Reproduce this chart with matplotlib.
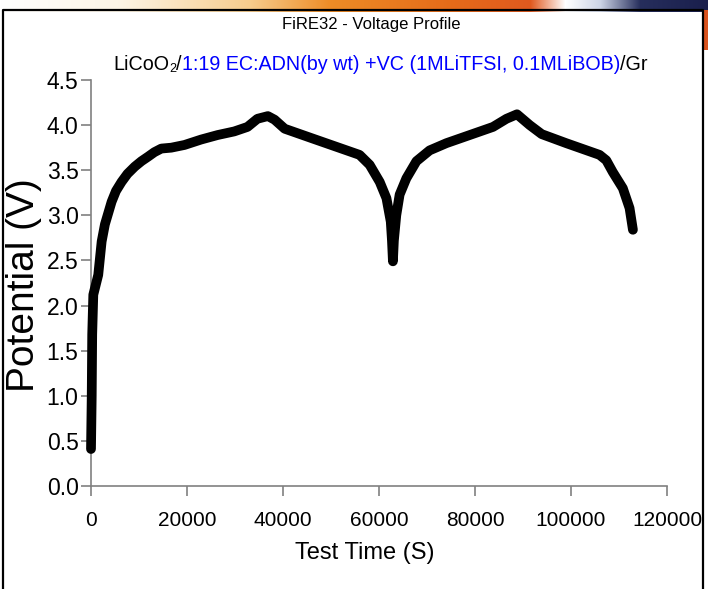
import numpy as np
import matplotlib
matplotlib.use("Agg")
import matplotlib.pyplot as plt
from matplotlib.lines import Line2D
from matplotlib.patches import Rectangle
from matplotlib import font_manager

# Voltage profile (test time in s, potential in V)
test_time = [0, 150, 250, 480, 1510, 2220, 2900, 4290, 5200, 6360, 7600, 9120,
             10500, 11880, 13200, 14650, 16730, 19480, 22940, 26380, 29840,
             32600, 34670, 36850, 38250, 40350, 46250, 51100, 55950, 58050,
             60150, 61550, 62450, 62700, 62900, 63100, 63600, 64300, 65700,
             67800, 70550, 74050, 78900, 83750, 86550, 88750, 91400, 93900,
             99000, 105950, 107350, 108700, 110800, 112200, 112900]
potential = [0.41, 1.00, 1.68, 2.12, 2.34, 2.71, 2.90, 3.15, 3.27, 3.37, 3.46, 3.54,
             3.60, 3.65, 3.70, 3.74, 3.75, 3.78, 3.84, 3.89, 3.93,
             3.98, 4.07, 4.10, 4.06, 3.96, 3.85, 3.76, 3.67, 3.56,
             3.37, 3.19, 2.93, 2.72, 2.49, 2.72, 3.00, 3.23, 3.41,
             3.60, 3.72, 3.80, 3.89, 3.98, 4.07, 4.12, 4.00, 3.90,
             3.80, 3.67, 3.61, 3.48, 3.30, 3.08, 2.84]

x_ticks = [0, 20000, 40000, 60000, 80000, 100000, 120000]
y_ticks = [0.0, 0.5, 1.0, 1.5, 2.0, 2.5, 3.0, 3.5, 4.0, 4.5]

# pick a narrow Arial-like face if one is around
names = {f.name for f in font_manager.fontManager.ttflist}
face = "Liberation Sans Narrow" if "Liberation Sans Narrow" in names else "Liberation Sans"
plt.rcParams['font.family'] = [face, 'DejaVu Sans']

W, H = 708, 589
fig = plt.figure(figsize=(W / 100, H / 100), dpi=100, facecolor='white')

# slide background: swoosh strip on top and framed white box
bg = fig.add_axes([0, 0, 1, 1], zorder=-5)
bg.set_xlim(0, W)
bg.set_ylim(H, 0)
bg.axis('off')
stops_x = [0, 120, 250, 330, 450, 530, 565, 600, 640, 708]
stops_c = [(1, 1, 1), (0.99, 0.96, 0.90), (0.97, 0.80, 0.55), (0.93, 0.55, 0.15),
           (0.90, 0.42, 0.10), (0.88, 0.35, 0.12), (1, 1, 1), (0.80, 0.83, 0.90),
           (0.15, 0.18, 0.36), (0.10, 0.12, 0.30)]
cols = np.arange(W)
strip = np.zeros((12, W, 3))
for k in range(3):
    strip[:, :, k] = np.interp(cols, stops_x, [c[k] for c in stops_c])
bg.imshow(strip, extent=(0, W, 12, 0), aspect='auto', interpolation='bilinear')
bg.add_patch(Rectangle((703, 10), 5, 40, color='#D9531E', lw=0))
bg.add_line(Line2D([3, 3, 703, 703], [H, 10, 10, H], color='black', lw=1.6))

ax = fig.add_axes([91 / W, 1 - 486 / H, 576 / W, 406 / H])
ax.plot(test_time, potential, color='black', lw=7, solid_capstyle='round',
        solid_joinstyle='round', clip_on=False, zorder=3)

ax.set_xlim(0, 120000)
ax.set_ylim(0, 4.5)
ax.set_xticks(x_ticks)
ax.set_xticklabels([str(v) for v in x_ticks])
ax.set_yticks(y_ticks)
ax.set_yticklabels(['%.1f' % v for v in y_ticks])

for side in ['top', 'right']:
    ax.spines[side].set_visible(False)
for side in ['left', 'bottom']:
    ax.spines[side].set_color('#808080')
    ax.spines[side].set_linewidth(1.2)
ax.tick_params(axis='both', direction='out', color='#808080', width=1.2,
               length=7, labelcolor='black')
ax.tick_params(axis='x', pad=11, labelsize=15)
ax.tick_params(axis='y', pad=2, labelsize=16.5)

ax.set_xlabel('Test Time (S)', fontsize=17, va='center')
ax.xaxis.set_label_coords(0.475, -0.165)
ax.set_ylabel('Potential (V)', fontsize=28, va='center')
ax.yaxis.set_label_coords(-0.116, 0.495)

fig.text(0.525, 1 - 24 / H, 'FiRE32 - Voltage Profile', ha='center', va='center',
         fontsize=12)

# two-colour subtitle with subscript
sub_size = 14.2
t1 = fig.text(113 / W, 1 - 74 / H, 'LiCoO', ha='left', va='bottom', fontsize=sub_size)
t2 = fig.add_artist(plt.Annotation('2', xy=(1, 0), xycoords=t1, xytext=(0, -1),
                                   textcoords='offset points', ha='left', va='bottom',
                                   fontsize=9))
t3 = fig.add_artist(plt.Annotation('/', xy=(1, 0), xycoords=(t2, t1), ha='left',
                                   va='bottom', fontsize=sub_size))
t4 = fig.add_artist(plt.Annotation('1:19 EC:ADN(by wt) +VC (1MLiTFSI, 0.1MLiBOB)',
                                   xy=(1, 0), xycoords=t3, ha='left', va='bottom',
                                   fontsize=sub_size, color='#0000FF'))
fig.add_artist(plt.Annotation('/Gr', xy=(1, 0), xycoords=t4, ha='left', va='bottom',
                              fontsize=sub_size))

fig.savefig('out.png', dpi=100, facecolor=fig.get_facecolor())
